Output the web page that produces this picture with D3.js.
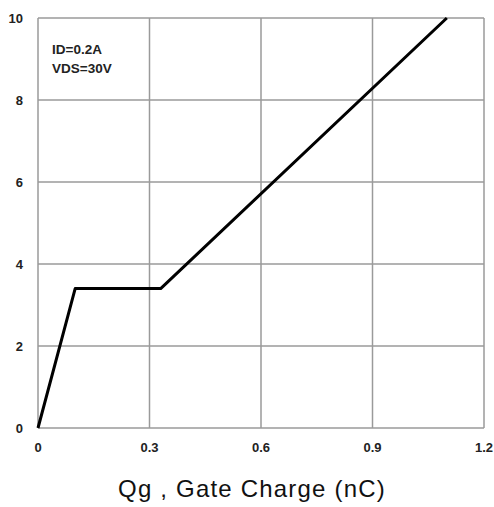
<!DOCTYPE html>
<html>
<head>
<meta charset="utf-8">
<script src="https://cdn.jsdelivr.net/npm/d3@7"></script>
<style>
  body { margin: 0; background: #fff; }
  text { font-family: "Liberation Sans", Arial, sans-serif; }
</style>
</head>
<body>
<div id="chart"></div>
<script>
// gate charge curve
const qg = [0, 0.1, 0.33, 1.1];
const vgs = [0, 3.4, 3.4, 10];
const xTicks = [0, 0.3, 0.6, 0.9, 1.2];
const yTicks = [0, 2, 4, 6, 8, 10];
const notes = ["ID=0.2A", "VDS=30V"];
const xTitle = "Qg , Gate Charge (nC)";

const width = 494, height = 507;
const m = { left: 38, right: 10, top: 18, bottom: 79 };

const svg = d3.select("#chart").append("svg")
    .attr("width", width)
    .attr("height", height);

const x = d3.scaleLinear().domain([0, 1.2]).range([m.left, width - m.right]);
const y = d3.scaleLinear().domain([0, 10]).range([height - m.bottom, m.top]);

// grid
svg.append("g").selectAll("line")
    .data(xTicks)
    .join("line")
    .attr("x1", d => x(d)).attr("x2", d => x(d))
    .attr("y1", y(0)).attr("y2", y(10))
    .attr("stroke", "#9a9a9a")
    .attr("stroke-width", 1.5);

svg.append("g").selectAll("line")
    .data(yTicks)
    .join("line")
    .attr("x1", x(0)).attr("x2", x(1.2))
    .attr("y1", d => y(d)).attr("y2", d => y(d))
    .attr("stroke", "#9a9a9a")
    .attr("stroke-width", 1.5);

// tick labels
svg.append("g").selectAll("text")
    .data(yTicks)
    .join("text")
    .attr("x", 23)
    .attr("y", d => y(d) + 5)
    .attr("text-anchor", "end")
    .attr("font-size", 13)
    .attr("font-weight", "bold")
    .attr("fill", "#222")
    .text(d => d);

svg.append("g").selectAll("text")
    .data(xTicks)
    .join("text")
    .attr("x", d => x(d))
    .attr("y", 452)
    .attr("text-anchor", "middle")
    .attr("font-size", 13)
    .attr("font-weight", "bold")
    .attr("fill", "#222")
    .text(d => d);

// curve
const line = d3.line()
    .x(d => x(d[0]))
    .y(d => y(d[1]));

svg.append("path")
    .datum(d3.zip(qg, vgs))
    .attr("d", line)
    .attr("fill", "none")
    .attr("stroke", "#000")
    .attr("stroke-width", 3)
    .attr("stroke-linejoin", "round");

// conditions
svg.append("g").selectAll("text")
    .data(notes)
    .join("text")
    .attr("x", 52)
    .attr("y", (d, i) => 54 + i * 19)
    .attr("font-size", 13.5)
    .attr("font-weight", "bold")
    .attr("fill", "#222")
    .text(d => d);

svg.append("text")
    .attr("x", 252)
    .attr("y", 497)
    .attr("text-anchor", "middle")
    .attr("font-size", 24)
    .attr("letter-spacing", 1.2)
    .attr("fill", "#111")
    .text(xTitle);
</script>
</body>
</html>
